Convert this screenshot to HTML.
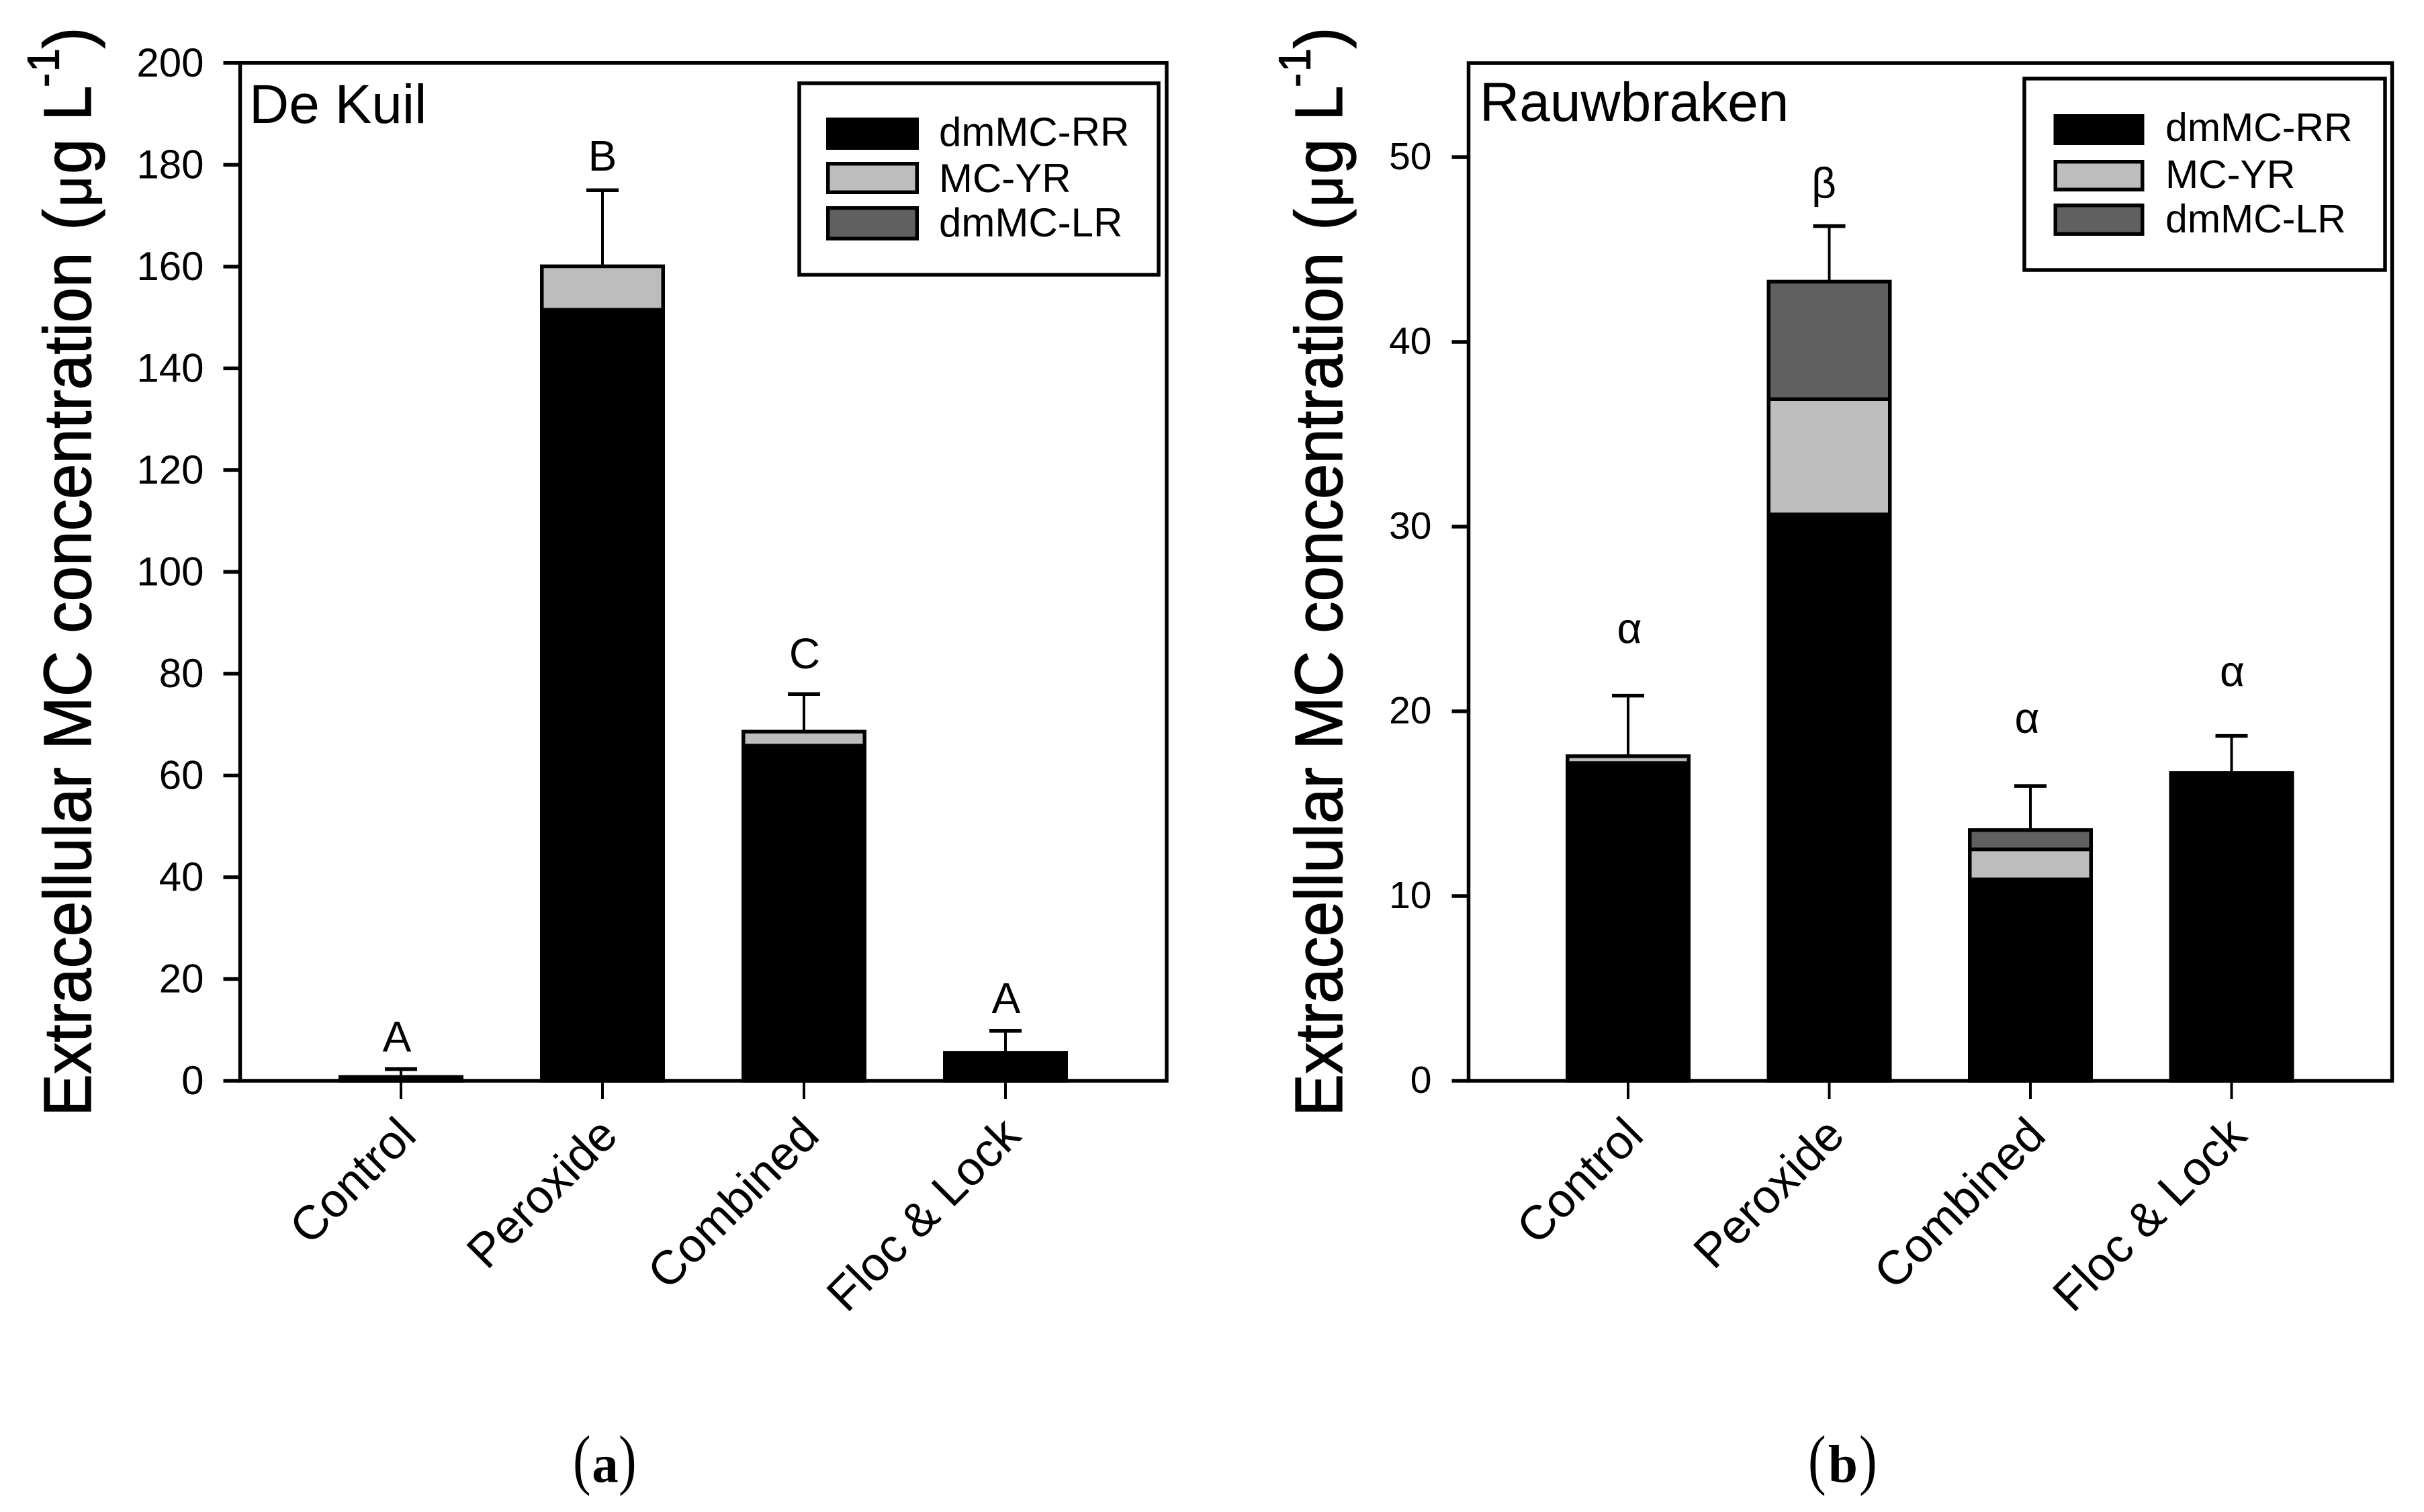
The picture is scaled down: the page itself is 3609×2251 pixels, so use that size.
<!DOCTYPE html>
<html lang="en">
<head>
<meta charset="utf-8">
<title>Extracellular MC concentration</title>
<style>
html,body{margin:0;padding:0;background:#fff;}
svg{display:block;}
text{font-family:"Liberation Sans",sans-serif;fill:#000;}
</style>
</head>
<body>
<svg id="figure" xmlns="http://www.w3.org/2000/svg" width="3609" height="2251" viewBox="0 0 3609 2251"></svg>
<script>
var categories = ['Control', 'Peroxide', 'Combined', 'Floc & Lock'];
var legendLabels = ['dmMC-RR', 'MC-YR', 'dmMC-LR'];

var deKuilTicks = [0, 20, 40, 60, 80, 100, 120, 140, 160, 180, 200];
var deKuilRR = [0.75, 151.5, 65.85, 5.45];
var deKuilYR = [0, 8.55, 2.75, 0];
var deKuilLR = [0, 0, 0, 0];
var deKuilErr = [1.55, 14.95, 7.4, 4.35];
var deKuilLetters = ['A', 'B', 'C', 'A'];

var rauwTicks = [0, 10, 20, 30, 40, 50];
var rauwRR = [17.2, 30.66, 10.9, 16.66];
var rauwYR = [0.37, 6.24, 1.63, 0];
var rauwLR = [0, 6.36, 1.04, 0];
var rauwErr = [3.28, 3.01, 2.39, 2.01];
var rauwLetters = ['\u03B1', '\u03B2', '\u03B1', '\u03B1'];

var NS = 'http://www.w3.org/2000/svg';
var root = document.getElementById('figure');
var SEG_FILL = ['#000000', '#bdbdbd', '#606060'];

function mk(parent, tag, attrs, txt) {
  var el = document.createElementNS(NS, tag);
  for (var k in attrs) { el.setAttribute(k, attrs[k]); }
  if (txt !== undefined) { el.textContent = txt; }
  parent.appendChild(el);
  return el;
}

function drawPanel(cfg) {
  var g = mk(root, 'g', {});
  
  

  function y(v) { return cfg.y0 - v * cfg.pxPerUnit; }
  function cx(i) { return cfg.c0 + i * cfg.step; }
  var top = y(cfg.max);
  var sw = 5.5;

  categories.forEach(function (cat, i) {
    var segs = [cfg.rr[i], cfg.yr[i], cfg.lr[i]];
    var base = 0;
    segs.forEach(function (v, s) {
      if (v <= 0) { return; }
      var r = mk(g, 'rect', {
        x: cx(i) - 90.25, y: y(base + v), width: 180.5,
        height: y(base) - y(base + v),
        fill: SEG_FILL[s], stroke: '#000', 'stroke-width': sw
      });
      
      
      base += v;
    });
    var eTop = y(base + cfg.err[i]);
    var stem = mk(g, 'line', { x1: cx(i), x2: cx(i), y1: y(base), y2: eTop, stroke: '#000', 'stroke-width': 4 });
    
    
    var cap = mk(g, 'line', { x1: cx(i) - 24, x2: cx(i) + 24, y1: eTop, y2: eTop, stroke: '#000', 'stroke-width': 5.5 });
    
    
    var sig = mk(g, 'text', {
      x: cx(i) + cfg.letterDx[i], y: eTop + cfg.letterGap[i],
      'font-size': 64, 'text-anchor': 'middle'
    }, cfg.letters[i]);
    
    
    var xt = mk(g, 'line', { x1: cx(i), x2: cx(i), y1: cfg.y0, y2: cfg.y0 + 27, stroke: '#000', 'stroke-width': 4 });
    
    
    var xl = mk(g, 'text', {
      transform: 'translate(' + (cx(i) + 26) + ',' + (cfg.y0 + 85) + ') rotate(-45)',
      'font-size': 71, 'text-anchor': 'end'
    }, cat);
    
    
  });

  var frame = mk(g, 'path', {
    d: 'M' + cfg.left + ' ' + cfg.y0 + 'V' + top + 'H' + cfg.right + 'V' + cfg.y0 + 'Z',
    fill: 'none', stroke: '#000', 'stroke-width': sw
  });
  
  

  cfg.ticks.forEach(function (t) {
    var l = mk(g, 'line', { x1: cfg.left - 25, x2: cfg.left, y1: y(t), y2: y(t), stroke: '#000', 'stroke-width': sw });
    
    
    var tl = mk(g, 'text', {
      x: cfg.left - cfg.labelGap, y: y(t) + cfg.labelDy,
      'font-size': cfg.labelSize, 'text-anchor': 'end'
    }, String(t));
    
    
  });

  var title = mk(g, 'text', {
    transform: 'translate(' + cfg.titleX + ',1662) rotate(-90) scale(1,1.06)',
    'font-size': 94.5, stroke: '#000', 'stroke-width': 1.2
  });
  
  
  mk(title, 'tspan', { x: 0 }, 'Extracellular MC concentration');
  mk(title, 'tspan', { x: 1319 }, '(');
  mk(title, 'tspan', { x: 1354, 'font-size': 80 }, '\u03BC');
  mk(title, 'tspan', { x: 1403 }, 'g');
  mk(title, 'tspan', { x: 1482 }, 'L');
  mk(title, 'tspan', { x: 1532, dy: -45, 'font-size': 63 }, '-');
  mk(title, 'tspan', { x: 1555, 'font-size': 63 }, '1');
  mk(title, 'tspan', { x: 1590, dy: 45 }, ')');

  var pn = mk(g, 'text', { x: cfg.nameX, y: cfg.nameY, 'font-size': cfg.nameSize }, cfg.title);
  
  

  var lg = mk(g, 'g', {});
  
  
  var box = mk(lg, 'rect', {
    x: cfg.legX, y: cfg.legY, width: cfg.legW, height: cfg.legH,
    fill: '#fff', stroke: '#000', 'stroke-width': 5.5
  });
  
  
  legendLabels.forEach(function (lab, s) {
    var sr = mk(lg, 'rect', {
      x: cfg.swX + 2.75, y: cfg.swY[s] + 2.75, width: cfg.swW - 5.5, height: cfg.swH[s] - 5.5,
      fill: SEG_FILL[s], stroke: '#000', 'stroke-width': 5.5
    });
    
    
    var st = mk(lg, 'text', { x: cfg.txtX, y: cfg.txtY[s], 'font-size': cfg.txtSize }, lab);
    
    
  });

  var capG = mk(g, 'g', { style: 'font-family:\'Liberation Serif\',serif' });
  
  
  var serif = 'font-family:\'Liberation Serif\',serif';
  var pl = mk(capG, 'text', { transform: 'translate(' + cfg.capL + ',2206) scale(0.8,1)', 'font-size': 100, style: serif }, '(');
  
  
  var cl = mk(capG, 'text', { x: cfg.capX, y: 2206, 'font-size': 79, 'font-weight': 'bold', 'text-anchor': 'middle', style: serif }, cfg.capLetter);
  
  
  var pr = mk(capG, 'text', { transform: 'translate(' + cfg.capR + ',2206) scale(0.8,1)', 'font-size': 100, style: serif }, ')');
  
  
}

drawPanel({
  name: 'panel-de-kuil', title: 'De Kuil', ticks: deKuilTicks, rr: deKuilRR, yr: deKuilYR, lr: deKuilLR,
  err: deKuilErr, letters: deKuilLetters, max: 200, y0: 1609, pxPerUnit: 7.576,
  c0: 597, step: 300, left: 357.5, right: 1737, labelGap: 54, labelDy: 20, labelSize: 60,
  letterDx: [-6, 0, 1, 1], letterGap: [-26, -29, -38, -27], titleX: 135,
  nameX: 371, nameY: 183, nameSize: 82,
  legX: 1190, legY: 124, legW: 535, legH: 285,
  swX: 1230, swW: 138, swY: [175, 241, 307], swH: [48, 48, 51], txtX: 1398, txtY: [217, 286, 352], txtSize: 60,
  capX: 901, capL: 853, capR: 921, capLetter: 'a'
});
drawPanel({
  name: 'panel-rauwbraken', title: 'Rauwbraken', ticks: rauwTicks, rr: rauwRR, yr: rauwYR, lr: rauwLR,
  err: rauwErr, letters: rauwLetters, max: 55.09, y0: 1609, pxPerUnit: 27.5,
  c0: 2424, step: 299.5, left: 2186.5, right: 3561.5, labelGap: 55, labelDy: 18, labelSize: 57,
  letterDx: [2, -8, -5, 1], letterGap: [-78, -42, -79, -74], titleX: 1998,
  nameX: 2203, nameY: 180, nameSize: 82,
  legX: 3014, legY: 117, legW: 537, legH: 285,
  swX: 3057.5, swW: 135, swY: [170, 238, 303], swH: [46, 47, 48], txtX: 3224, txtY: [210, 280, 346], txtSize: 59,
  capX: 2744, capL: 2692, capR: 2768, capLetter: 'b'
});
</script>
</body>
</html>
